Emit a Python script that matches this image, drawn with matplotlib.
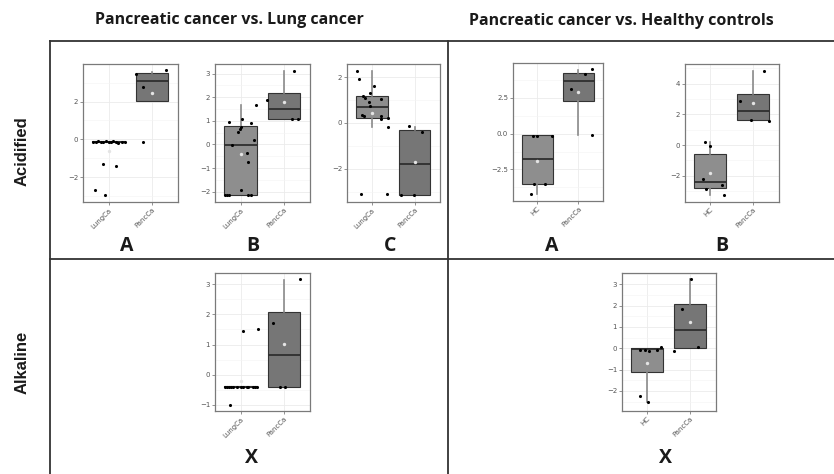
import matplotlib
matplotlib.use("Agg")
import matplotlib.pyplot as plt
from matplotlib.ticker import MultipleLocator, FixedLocator

W, H, DPI = 834, 474, 100
BOX_FILL = ["#8e8e8e", "#767676"]
EDGE = "#333333"; WHISK = "#8a8a8a"; GRID = "#ebebeb"; TICK = "#555555"

# ---- data ----
# box stats per group: (whislo, q1, med, q3, whishi, mean)
# points: (x offset from group centre, value)

# Acidified, PancCa vs LungCa, panel A
PA_GROUPS = ["LungCa", "PancCa"]
PA_BOX = [(-0.17, -0.16, -0.12, -0.10, -0.08, -0.60),
          (2.04, 2.04, 3.09, 3.50, 3.58, 2.44)]
PA_PTS0 = [(-0.36, -0.12), (-0.30, -0.14), (-0.24, -0.10), (-0.18, -0.15), (-0.12, -0.13),
           (-0.06, -0.11), (0.0, -0.16), (0.05, -0.12), (0.10, -0.09), (0.16, -0.13),
           (0.22, -0.18), (0.30, -0.12), (0.37, -0.14),
           (-0.13, -1.30), (0.18, -1.41), (-0.32, -2.66), (-0.09, -2.96)]
PA_PTS1 = [(-0.36, 3.48), (0.32, 3.66), (-0.20, 2.79), (-0.21, -0.16)]
PA_YLIM = (-3.32, 3.99); PA_TICKS = [-2, 0, 2]

# panel B
PB_GROUPS = ["LungCa", "PancCa"]
PB_BOX = [(-2.14, -2.14, -0.03, 0.77, 1.66, -0.41),
          (1.07, 1.07, 1.49, 2.20, 3.13, 1.80)]
PB_PTS0 = [(-0.36, -2.14), (-0.32, -2.13), (-0.27, -2.13), (-0.27, 0.97), (-0.20, -0.04),
           (-0.05, 0.54), (-0.01, 0.66), (0.0, 0.73), (0.03, 1.07), (0.0, -1.94),
           (0.14, -0.37), (0.18, -0.75), (0.18, -2.13), (0.25, -2.13), (0.25, 0.92),
           (0.32, 0.20), (0.35, 1.66)]
PB_PTS1 = [(-0.39, 1.87), (0.23, 3.13), (0.18, 1.08), (0.32, 1.06)]
PB_YLIM = (-2.44, 3.41); PB_TICKS = [-2, -1, 0, 1, 2, 3]

# panel C
PC_GROUPS = ["LungCa", "PancCa"]
PC_BOX = [(-0.16, 0.22, 0.70, 1.19, 2.28, 0.42),
          (-3.14, -3.14, -1.78, -0.33, -0.16, -1.71)]
PC_PTS0 = [(-0.35, 2.28), (-0.30, 1.90), (-0.22, 1.19), (-0.16, 1.09), (-0.05, 1.30),
           (-0.08, 0.90), (-0.05, 0.72), (0.04, 1.61), (0.21, 1.03), (-0.24, 0.36),
           (-0.19, 0.30), (0.21, 0.29), (0.21, 0.19), (0.38, 0.22), (0.37, -0.16),
           (-0.26, -3.12), (0.35, -3.12)]
PC_PTS1 = [(-0.12, -0.13), (0.18, -0.41), (-0.33, -3.13), (-0.02, -3.13)]
PC_YLIM = (-3.45, 2.57); PC_TICKS = [-2, 0, 2]

# Acidified, PancCa vs HC, panel A
PD_GROUPS = ["HC", "PancCa"]
PD_BOX = [(-4.23, -3.53, -1.78, -0.12, -0.12, -1.92),
          (-0.09, 2.31, 3.64, 4.23, 4.46, 2.92)]
PD_PTS0 = [(-0.11, -0.14), (0.0, -0.14), (0.35, -0.14), (-0.09, -3.48), (0.20, -3.53),
           (-0.14, -4.21)]
PD_PTS1 = [(0.16, 4.16), (0.33, 4.49), (-0.18, 3.15), (0.34, -0.12)]
PD_YLIM = (-4.70, 4.93); PD_TICKS = [-2.5, 0.0, 2.5]

# panel B
PE_GROUPS = ["HC", "PancCa"]
PE_BOX = [(-3.25, -2.77, -2.42, -0.58, 0.17, -1.80),
          (1.61, 1.61, 2.24, 3.34, 4.83, 2.74)]
PE_PTS0 = [(-0.12, 0.17), (0.0, -0.04), (-0.17, -2.19), (-0.11, -2.84), (0.28, -2.60),
           (0.32, -3.25)]
PE_PTS1 = [(-0.31, 2.84), (-0.05, 1.61), (0.37, 1.59), (0.25, 4.85)]
PE_YLIM = (-3.71, 5.28); PE_TICKS = [-2, 0, 2, 4]

# Alkaline, PancCa vs LungCa, panel X
PF_GROUPS = ["LungCa", "PancCa"]
PF_BOX = [(-0.41, -0.41, -0.39, -0.38, -0.37, -0.22),
          (-0.40, -0.40, 0.66, 2.08, 3.14, 1.01)]
PF_PTS0 = [(-0.36, -0.39), (-0.32, -0.39), (-0.26, -0.39), (-0.21, -0.39), (-0.17, -0.39),
           (-0.09, -0.39), (0.02, -0.39), (0.05, -0.39), (0.14, -0.39), (0.18, -0.39),
           (0.28, -0.39), (0.33, -0.39), (0.38, -0.39),
           (0.05, 1.46), (0.40, 1.50), (-0.25, -0.99)]
PF_PTS1 = [(-0.25, 1.73), (-0.09, -0.40), (0.02, -0.40), (0.38, 3.16)]
PF_YLIM = (-1.20, 3.37); PF_TICKS = [-1, 0, 1, 2, 3]

# Alkaline, PancCa vs HC, panel X
PG_GROUPS = ["HC", "PancCa"]
PG_BOX = [(-2.52, -1.10, -0.03, 0.0, 0.0, -0.68),
          (0.0, 0.0, 0.86, 2.09, 3.25, 1.22)]
PG_PTS0 = [(-0.18, -0.08), (-0.06, -0.06), (0.05, -0.11), (0.22, -0.08), (0.31, 0.05),
           (-0.17, -2.25), (0.02, -2.50)]
PG_PTS1 = [(-0.19, 1.84), (0.19, 0.06), (-0.38, -0.11), (0.02, 3.25)]
PG_YLIM = (-2.94, 3.53); PG_TICKS = [-2, -1, 0, 1, 2, 3]

COL_TITLES = ["Pancreatic cancer vs. Lung cancer", "Pancreatic cancer vs. Healthy controls"]
ROW_TITLES = ["Acidified", "Alkaline"]

# pixel boxes (left, top, right, bottom) and the letter under each panel
PANELS = [
    (PA_GROUPS, PA_BOX, PA_PTS0, PA_PTS1, PA_YLIM, PA_TICKS, (83, 64, 178, 202), "A", (127, 246)),
    (PB_GROUPS, PB_BOX, PB_PTS0, PB_PTS1, PB_YLIM, PB_TICKS, (215, 64, 310, 202), "B", (253, 246)),
    (PC_GROUPS, PC_BOX, PC_PTS0, PC_PTS1, PC_YLIM, PC_TICKS, (347, 64, 440, 202), "C", (390, 246)),
    (PD_GROUPS, PD_BOX, PD_PTS0, PD_PTS1, PD_YLIM, PD_TICKS, (513, 63, 603, 201), "A", (552, 246)),
    (PE_GROUPS, PE_BOX, PE_PTS0, PE_PTS1, PE_YLIM, PE_TICKS, (685, 64, 779, 202), "B", (722, 246)),
    (PF_GROUPS, PF_BOX, PF_PTS0, PF_PTS1, PF_YLIM, PF_TICKS, (215, 273, 310, 411), "X", (252, 458)),
    (PG_GROUPS, PG_BOX, PG_PTS0, PG_PTS1, PG_YLIM, PG_TICKS, (622, 273, 716, 411), "X", (666, 458)),
]

fig = plt.figure(figsize=(W / DPI, H / DPI), dpi=DPI)
fig.patch.set_facecolor("white")

# background layer in pixel coordinates: grid lines, headers, letters
bg = fig.add_axes([0, 0, 1, 1], zorder=0)
bg.set_xlim(0, W); bg.set_ylim(H, 0); bg.axis("off")
lc = "#333333"
bg.plot([50, W], [41, 41], color=lc, lw=1.3)
bg.plot([50, W], [259, 259], color=lc, lw=1.3)
bg.plot([50, 50], [41, H], color=lc, lw=1.3)
bg.plot([448, 448], [41, H], color=lc, lw=1.3)
bg.text(229, 20, COL_TITLES[0], ha="center", va="center", fontsize=11.5,
        fontweight="bold", family="Open Sans", color="#1a1a1a")
bg.text(621, 21, COL_TITLES[1], ha="center", va="center", fontsize=11.5,
        fontweight="bold", family="Open Sans", color="#1a1a1a")
bg.text(22, 151, ROW_TITLES[0], rotation=90, ha="center", va="center", fontsize=12,
        fontweight="bold", family="Liberation Sans", color="#1a1a1a")
bg.text(22, 362, ROW_TITLES[1], rotation=90, ha="center", va="center", fontsize=12,
        fontweight="bold", family="Liberation Sans", color="#1a1a1a")


def draw_panel(groups, box, pts0, pts1, ylim, ticks, px, letter, lpos):
    l, t, r, b = px
    ax = fig.add_axes([l / W, 1 - b / H, (r - l) / W, (b - t) / H], zorder=2)

    stats = []
    for lo, q1, med, q3, hi, mean in box:
        stats.append(dict(whislo=lo, q1=q1, med=med, q3=q3, whishi=hi, fliers=[], mean=mean))
    bp = ax.bxp(stats, positions=[1, 2], widths=0.75, patch_artist=True, showcaps=False,
                showfliers=False, showmeans=False, manage_ticks=False,
                whiskerprops=dict(color=WHISK, lw=1.2),
                medianprops=dict(color="#2e2e2e", lw=1.3),
                boxprops=dict(edgecolor=EDGE, lw=0.8))
    for patch, fc in zip(bp["boxes"], BOX_FILL):
        patch.set_facecolor(fc)
    for k, pts in enumerate([pts0, pts1]):
        xs = [k + 1 + dx for dx, _ in pts]
        ys = [v for _, v in pts]
        ax.scatter(xs, ys, s=5, color="black", zorder=5, lw=0)
    ax.scatter([1, 2], [s[5] for s in box], s=6, color="#e4e4e4", zorder=6, lw=0)

    ax.set_xlim(0.41, 2.6)
    ax.set_ylim(*ylim)
    ax.yaxis.set_major_locator(FixedLocator(ticks))
    step = ticks[1] - ticks[0]
    ax.yaxis.set_minor_locator(MultipleLocator(step / 2))
    ax.set_xticks([1, 2])
    ax.set_xticklabels(groups, rotation=45, ha="right", rotation_mode="anchor")
    ax.set_axisbelow(True)
    ax.grid(True, which="major", color=GRID, lw=0.6)
    ax.grid(True, which="minor", axis="y", color="#f4f4f4", lw=0.4)
    ax.tick_params(axis="both", which="major", labelsize=5, labelcolor=TICK, color="#666666",
                   length=2, width=0.5, pad=1.5)
    ax.tick_params(axis="both", which="minor", length=0)
    for s in ax.spines.values():
        s.set_color("#7a7a7a"); s.set_linewidth(0.9)

    bg.text(lpos[0], lpos[1], letter, ha="center", va="center", fontsize=14,
            fontweight="bold", family="Open Sans", color="#1a1a1a")


for p in PANELS:
    draw_panel(*p)

fig.savefig("out.png", dpi=DPI, facecolor="white")
